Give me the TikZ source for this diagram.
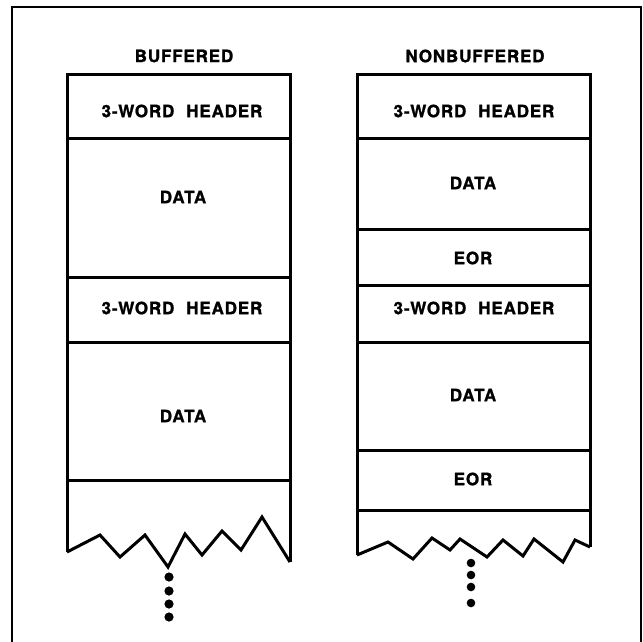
\documentclass[tikz,border=0pt]{standalone}
\usepackage{fontspec}
\setmainfont{TeX Gyre Heros}
\newfontfamily\labelfont{TeX Gyre Heros}[LetterSpace=5,BoldFeatures={FakeBold=1.2}]

\begin{document}
\begin{tikzpicture}[x=1pt,y=-1pt,
  wall/.style={line width=3pt},
  lbl/.style={font=\labelfont\bfseries\fontsize{17}{19}\selectfont,inner sep=0pt}]
  \useasboundingbox (0,0) rectangle (643,641);
  % outer frame
  \draw[line width=2pt] (12,650) -- (12,7) -- (641,7) -- (641,650);
  % buffered
  \draw[wall] (67,552) -- (67,74) -- (290,74) -- (290,562);
  \foreach \y in {138,277,342,480} {\draw[wall] (67,\y) -- (290,\y);}
  \draw[wall] (67,552) -- (100,535) -- (120,557) -- (145,535) -- (168,567) -- (185,534)
    -- (202,555) -- (222,531) -- (241,550) -- (262,517) -- (290,562);
  \foreach \y in {577,591,604,617} {\fill (169,\y) circle (4.6);}
  \node[lbl] (buf) at (184,56) {BUFFERED};
  \node[lbl] (bhead1) at (182,111) {3-WORD\hspace{12pt}HEADER};
  \node[lbl] (bdata1) at (183,197) {DATA};
  \node[lbl] (bhead2) at (182,308) {3-WORD\hspace{12pt}HEADER};
  \node[lbl] (bdata2) at (183,416) {DATA};
  % nonbuffered
  \draw[wall] (357,555) -- (357,74) -- (590,74) -- (590,547);
  \foreach \y in {138,229,285,342,450,510} {\draw[wall] (357,\y) -- (590,\y);}
  \draw[wall] (357,555) -- (388,542) -- (413,559) -- (432,538) -- (450,550) -- (460,539)
    -- (487,557) -- (503,540) -- (523,556) -- (534,539) -- (563,562) -- (575,540) -- (590,547);
  \foreach \y in {563,575,587,603} {\fill (471,\y) circle (4.3);}
  \node[lbl] (nbuf) at (475,56) {NONBUFFERED};
  \node[lbl] (nhead1) at (474,111) {3-WORD\hspace{12pt}HEADER};
  \node[lbl] (ndata1) at (473,183) {DATA};
  \node[lbl] (neor1) at (473,258) {EOR};
  \node[lbl] (nhead2) at (474,308) {3-WORD\hspace{12pt}HEADER};
  \node[lbl] (ndata2) at (473,395) {DATA};
  \node[lbl] (neor2) at (473,479) {EOR};
\end{tikzpicture}
\end{document}
